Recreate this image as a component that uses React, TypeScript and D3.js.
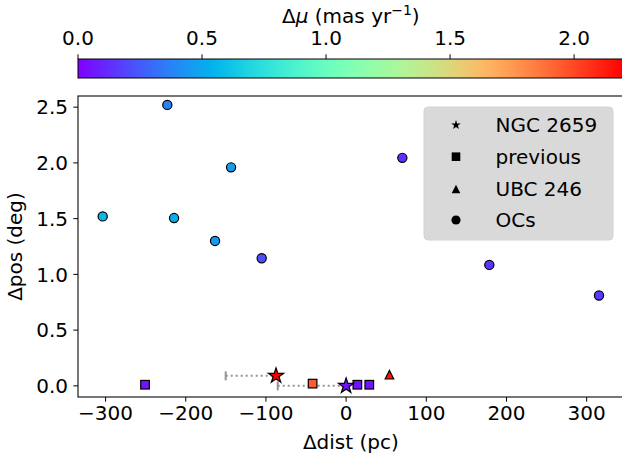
import React from "react";
import * as d3 from "d3";

// ---- data ----
const ocDist = [-223, -143.5, -303.6, -214.6, -163.5, -105.3, 70.1, 178.6, 315.4];
const ocPos = [2.52, 1.96, 1.52, 1.505, 1.3, 1.145, 2.045, 1.085, 0.81];
const ocMu = [0.37, 0.46, 0.57, 0.53, 0.45, 0.22, 0.14, 0.15, 0.16];

const prevDist = [-250.8, -41.8, 14, 28.9];
const prevPos = [0.01, 0.02, 0.01, 0.01];
const prevMu = [0.05, 1.95, 0.05, 0.05];

const ngcDist = [-87.4, 0];
const ngcPos = [0.09, 0];
const ngcMu = [2.2, 0.05];
const ngcErrLow = [62.8, 85.3];

const ubcDist = [54];
const ubcPos = [0.1];
const ubcMu = [2.15];

const xTicks = [-300, -200, -100, 0, 100, 200, 300];
const yTicks = [0, 0.5, 1.0, 1.5, 2.0, 2.5];
const cbTicks = [0, 0.5, 1.0, 1.5, 2.0];
const legendLabels = ["NGC 2659", "previous", "UBC 246", "OCs"];

const MU_MAX = 2.2;

function rainbow(t: number): string {
  const c = (v: number) => Math.round(Math.max(0, Math.min(1, v)) * 255);
  const r = Math.abs(2 * t - 0.5);
  const g = Math.sin(Math.PI * t);
  const b = Math.cos((Math.PI * t) / 2);
  return `rgb(${c(r)},${c(g)},${c(b)})`;
}

function starPath(R: number): string {
  const inner = R * 0.381966;
  const pts: string[] = [];
  for (let i = 0; i < 10; i++) {
    const rr = i % 2 === 0 ? R : inner;
    const a = (i * Math.PI) / 5;
    pts.push(`${(rr * Math.sin(a)).toFixed(2)},${(-rr * Math.cos(a)).toFixed(2)}`);
  }
  return "M" + pts.join("L") + "Z";
}

function triPath(h: number): string {
  return `M0,${-h}L${-h},${h}L${h},${h}Z`;
}

const FONT = "DejaVu Sans, sans-serif";
const minus = (s: string) => s.replace("-", "\u2212");

export default function App() {
  const left = 78;
  const right = 623.7;
  const top = 96;
  const bottom = 397;
  const x = d3.scaleLinear().domain([-334.4, 346.2]).range([left, right]);
  const y = d3.scaleLinear().domain([-0.1, 2.6]).range([bottom, top]);
  const mu = d3.scaleLinear().domain([0, MU_MAX]).range([0, 1]);
  const cbX = d3.scaleLinear().domain([0, MU_MAX]).range([left, right]);
  const cbTop = 59;
  const cbBot = 78;

  const stops = d3.range(0, 1.0001, 0.02);
  const color = (v: number) => rainbow(mu(v));

  const legendRows = [125, 156.7, 189, 220];
  const lx = 456;

  return (
    <svg
      width={622}
      height={461}
      style={{ position: "fixed", left: 0, top: 0, background: "#fff" }}
      fontFamily={FONT}
    >
      <defs>
        <linearGradient id="cb" x1="0" x2="1" y1="0" y2="0">
          {stops.map((s, i) => (
            <stop key={i} offset={s} stopColor={rainbow(s)} />
          ))}
        </linearGradient>
      </defs>
      <rect width={622} height={461} fill="#fff" />

      {/* colorbar */}
      <rect x={left} y={cbTop} width={right - left} height={cbBot - cbTop} fill="url(#cb)" stroke="#000" strokeWidth={1} />
      {cbTicks.map((t) => (
        <g key={t}>
          <line x1={cbX(t)} x2={cbX(t)} y1={cbTop} y2={cbTop - 4.7} stroke="#000" strokeWidth={1} />
          <text x={cbX(t)} y={45} fontSize={20} textAnchor="middle">
            {t.toFixed(1)}
          </text>
        </g>
      ))}
      <text x={(left + right) / 2} y={23} fontSize={20} textAnchor="middle">
        Δ<tspan fontStyle="italic">μ</tspan> (mas yr
        <tspan dy={-8} fontSize={14}>{"\u22121"}</tspan>
        <tspan dy={8}>)</tspan>
      </text>

      {/* axes frame */}
      <rect x={left} y={top} width={right - left} height={bottom - top} fill="none" stroke="#000" strokeWidth={1.07} />

      {xTicks.map((t) => (
        <g key={t}>
          <line x1={x(t)} x2={x(t)} y1={bottom} y2={bottom + 4.7} stroke="#000" strokeWidth={1} />
          <text x={x(t)} y={420} fontSize={20} textAnchor="middle">
            {minus(String(t))}
          </text>
        </g>
      ))}
      {yTicks.map((t) => (
        <g key={t}>
          <line x1={left} x2={left - 4.7} y1={y(t)} y2={y(t)} stroke="#000" strokeWidth={1} />
          <text x={68} y={y(t) + 7.2} fontSize={20} textAnchor="end">
            {t.toFixed(1)}
          </text>
        </g>
      ))}
      <text x={(left + right) / 2} y={449} fontSize={20} textAnchor="middle">
        Δdist (pc)
      </text>
      <text transform={`translate(21.6,${(top + bottom) / 2}) rotate(-90)`} fontSize={20} textAnchor="middle">
        Δpos (deg)
      </text>

      {/* error bars */}
      {ngcDist.map((d, i) => {
        const x0 = x(d - ngcErrLow[i]);
        const x1 = x(d);
        const yy = y(ngcPos[i]);
        return (
          <g key={"e" + i} stroke="#949494" strokeWidth={2}>
            <line x1={x0} x2={x1} y1={yy} y2={yy} strokeDasharray="2,3" />
            <line x1={x0} x2={x0} y1={yy - 4.5} y2={yy + 4.5} />
            <line x1={x1} x2={x1} y1={yy - 4.5} y2={yy + 4.5} />
          </g>
        );
      })}

      {/* OCs */}
      {ocDist.map((d, i) => (
        <circle key={"c" + i} cx={x(d)} cy={y(ocPos[i])} r={4.6} fill={color(ocMu[i])} stroke="#000" strokeWidth={1.2} />
      ))}
      {/* previous */}
      {prevDist.map((d, i) => (
        <rect key={"p" + i} x={x(d) - 4.3} y={y(prevPos[i]) - 4.3} width={8.6} height={8.6} fill={color(prevMu[i])} stroke="#000" strokeWidth={1.2} />
      ))}
      {/* UBC 246 */}
      {ubcDist.map((d, i) => (
        <path key={"u" + i} d={triPath(4.3)} transform={`translate(${x(d)},${y(ubcPos[i])})`} fill={color(ubcMu[i])} stroke="#000" strokeWidth={1.2} />
      ))}
      {/* NGC 2659 */}
      {ngcDist.map((d, i) => (
        <path key={"s" + i} d={starPath(8)} transform={`translate(${x(d)},${y(ngcPos[i])})`} fill={color(ngcMu[i])} stroke="#000" strokeWidth={1.2} />
      ))}

      {/* legend */}
      <rect x={424} y={107} width={189} height={133} rx={4} fill="#d9d9d9" stroke="#d4d4d4" />
      <path d={starPath(5)} transform={`translate(${lx},${legendRows[0]})`} fill="#000" />
      <rect x={lx - 4.3} y={legendRows[1] - 4.3} width={8.6} height={8.6} fill="#000" />
      <path d={triPath(4.3)} transform={`translate(${lx},${legendRows[2]})`} fill="#000" />
      <circle cx={lx} cy={legendRows[3]} r={4.6} fill="#000" />
      {legendLabels.map((l, i) => (
        <text key={l} x={495.5} y={legendRows[i] + 7.2} fontSize={20}>
          {l}
        </text>
      ))}
    </svg>
  );
}
